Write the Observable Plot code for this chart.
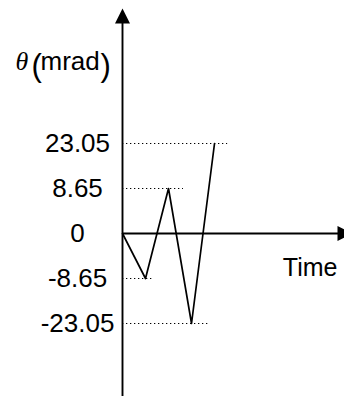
<!DOCTYPE html>
<html>
<head>
<meta charset="utf-8">
<script src="https://cdn.jsdelivr.net/npm/d3@7"></script>
<script src="https://cdn.jsdelivr.net/npm/@observablehq/plot@0.6"></script>
<style>
  html, body { margin: 0; padding: 0; background: #fff; }
</style>
</head>
<body>
<div id="chart"></div>
<script>
// Schematic time steps and angle values (mrad)
const time = [0, 1, 2, 3, 4];
const theta = [0, -8.65, 8.65, -23.05, 23.05];
// Tick levels shown on the vertical axis (evenly spaced, schematic)
const levels = [23.05, 8.65, 0, -8.65, -23.05];
const tickLabels = ["23.05", "8.65", "0", "-8.65", "-23.05"];
// Dotted guide lines: level and where (in time units) each ends
const guideLevels = [23.05, 8.65, -8.65, -23.05];
const guideEnds = [4.57, 2.65, 1.35, 3.74];
const timeMax = 9.65;

const guides = guideLevels.map((v, i) => ({v, end: guideEnds[i]}));
const series = time.map((t, i) => ({t, v: theta[i]}));
const ticks = levels.map((v, i) => ({v, label: tickLabels[i]}));

const upArrow = {draw(ctx) { ctx.moveTo(0, -15); ctx.lineTo(7.5, 0); ctx.lineTo(-7.5, 0); ctx.closePath(); }};
const rightArrow = {draw(ctx) { ctx.moveTo(15, 0); ctx.lineTo(0, -7.5); ctx.lineTo(0, 7.5); ctx.closePath(); }};

const W = 344, H = 396, ML = 122, MT = 23;

const chart = Plot.plot({
  width: W,
  height: H,
  marginLeft: ML,
  marginRight: 0,
  marginTop: MT,
  marginBottom: 0,
  style: {fontFamily: "Liberation Sans, Arial, sans-serif", fontSize: "25px", color: "#000", background: "#fff"},
  x: {domain: [0, timeMax], axis: null},
  y: {type: "point", domain: levels, range: [143, 323], padding: 0, axis: null},
  marks: [
    Plot.ruleY(guides, {y: "v", x1: 0, x2: "end", stroke: "#000", strokeWidth: 1.2, strokeDasharray: "1.3,2.7"}),
    Plot.ruleX([0], {stroke: "#000", strokeWidth: 1.9}),
    Plot.ruleY([0], {stroke: "#000", strokeWidth: 1.9}),
    Plot.dot([0], {x: d => d, frameAnchor: "top", symbol: upArrow, r: 5, fill: "#000", stroke: "none"}),
    Plot.dot([0], {y: d => d, frameAnchor: "right", dx: -7, symbol: rightArrow, r: 5, fill: "#000", stroke: "none"}),
    Plot.line(series, {x: "t", y: "v", stroke: "#000", strokeWidth: 1.7}),
    Plot.text(ticks, {y: "v", text: "label", frameAnchor: "left", dx: 77 - ML, textAnchor: "middle", lineAnchor: "middle", fontSize: 26, fill: "#000"}),
    Plot.text(["Time"], {frameAnchor: "top-right", dx: -7, dy: 275 - MT, textAnchor: "end", lineAnchor: "bottom", fontSize: 25, fill: "#000"}),
    Plot.text(["θ"], {frameAnchor: "top-left", dx: 15 - ML, dy: 69 - MT, textAnchor: "start", lineAnchor: "bottom", fontFamily: "Liberation Serif", fontStyle: "italic", fontSize: 26, fill: "#000"}),
    Plot.text(["("], {frameAnchor: "top-left", dx: 31 - ML, dy: 75 - MT, textAnchor: "start", lineAnchor: "bottom", fontSize: 31, fill: "#000"}),
    Plot.text(["mrad"], {frameAnchor: "top-left", dx: 40 - ML, dy: 69 - MT, textAnchor: "start", lineAnchor: "bottom", fontSize: 26, fill: "#000"}),
    Plot.text([")"], {frameAnchor: "top-left", dx: 100 - ML, dy: 75 - MT, textAnchor: "start", lineAnchor: "bottom", fontSize: 31, fill: "#000"})
  ]
});
document.getElementById("chart").appendChild(chart);
</script>
</body>
</html>
